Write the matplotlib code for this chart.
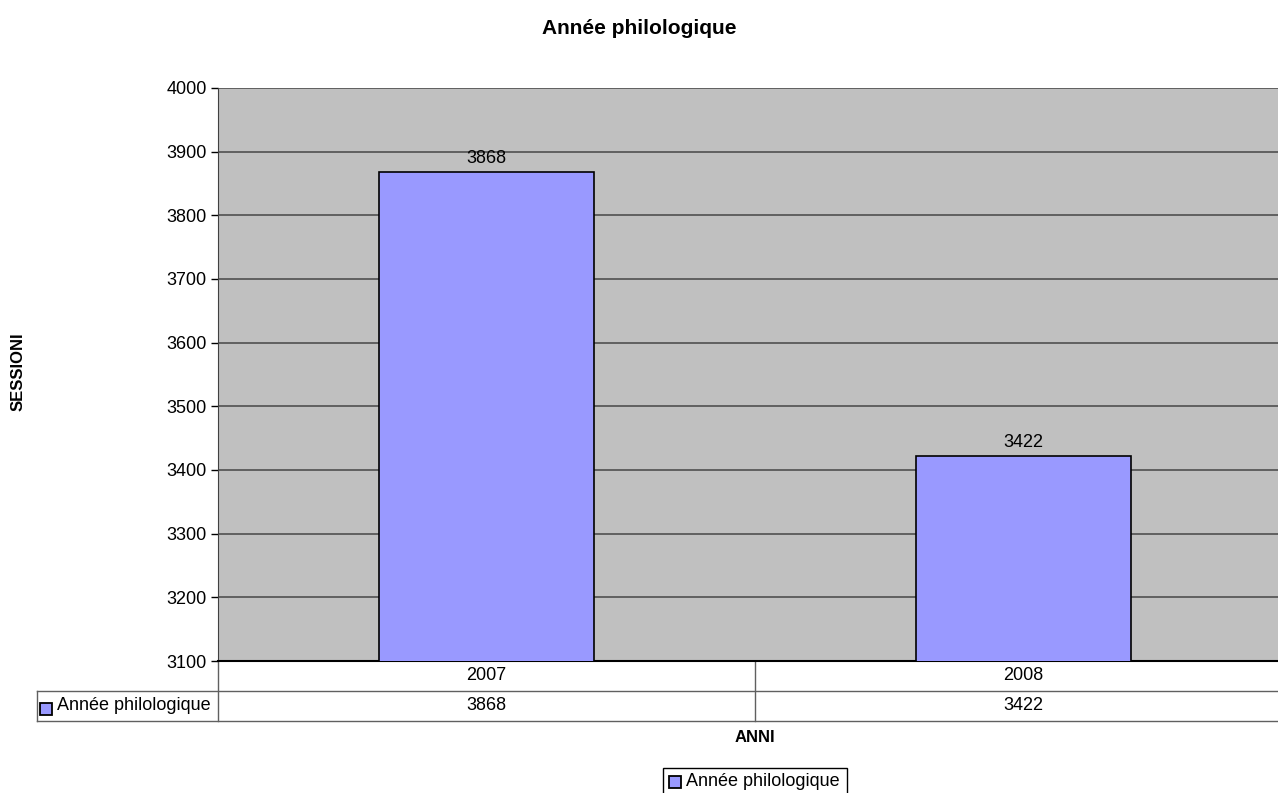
import matplotlib.pyplot as plt
from matplotlib.patches import Rectangle
from matplotlib.transforms import blended_transform_factory

plt.rcParams['font.family'] = ['Liberation Sans', 'DejaVu Sans']

# dati
anni = ["2007", "2008"]
sessioni = [3868, 3422]
serie = "Année philologique"

W, H = 1278, 793
fig = plt.figure(figsize=(W / 100, H / 100), dpi=100)

# area del grafico (in pixel dell'immagine); il bordo destro esce dall'immagine
left, right, top, bottom = 218, 1292, 88, 661
ax = fig.add_axes([left / W, 1 - bottom / H, (right - left) / W, (bottom - top) / H])
ax.set_facecolor("#C0C0C0")

x = list(range(len(anni)))
ax.bar(x, sessioni, width=0.4, color="#9999FF", edgecolor="black", linewidth=1.2, zorder=3)
for xi, v in zip(x, sessioni):
    ax.text(xi, v + 8, str(v), ha="center", va="bottom", fontsize=13, zorder=4)

ax.set_xlim(-0.5, len(anni) - 0.5)
ax.set_ylim(3100, 4000)
ax.set_yticks(range(3100, 4001, 100))
ax.tick_params(axis="y", labelsize=13, length=5, width=1, direction="out", pad=3)
ax.set_xticks([])
ax.grid(axis="y", color="#505050", linewidth=1.2, zorder=1)

for s in ["top", "right"]:
    ax.spines[s].set_visible(False)
ax.spines["left"].set_color("#404040")
ax.spines["bottom"].set_color("black")
ax.spines["bottom"].set_linewidth(1.5)

# tabella dati sotto il grafico
trans = blended_transform_factory(ax.transData, ax.transAxes)
ph = bottom - top
r1 = -30 / ph
r2 = -60 / ph
leg_left = (37 - left) / (right - left)
lc = "#606060"
ax.plot([0, 0], [0, r2], transform=ax.transAxes, color=lc, lw=1, clip_on=False)
ax.plot([1, 1], [0, r2], transform=ax.transAxes, color=lc, lw=1, clip_on=False)
ax.plot([0.5, 0.5], [0, r2], transform=trans, color=lc, lw=1, clip_on=False)
ax.plot([leg_left, 1], [r1, r1], transform=ax.transAxes, color=lc, lw=1, clip_on=False)
ax.plot([leg_left, 1], [r2, r2], transform=ax.transAxes, color=lc, lw=1, clip_on=False)
ax.plot([leg_left, leg_left], [r1, r2], transform=ax.transAxes, color=lc, lw=1, clip_on=False)

for xi, a, v in zip(x, anni, sessioni):
    ax.text(xi, r1 / 2, a, transform=trans, ha="center", va="center", fontsize=13)
    ax.text(xi, (r1 + r2) / 2, str(v), transform=trans, ha="center", va="center", fontsize=13)

# chiave della legenda nella tabella
fig.patches.append(Rectangle((40 / W, 1 - 715 / H), 12 / W, 12 / H, transform=fig.transFigure,
                             facecolor="#9999FF", edgecolor="black", lw=1.3))
fig.text(57 / W, 1 - 706 / H, serie, ha="left", va="center", fontsize=13)

# titoli
fig.text(0.5, 1 - 28 / H, serie, ha="center", va="center", fontsize=15, fontweight="bold")
fig.text(18 / W, 1 - 372 / H, "SESSIONI", rotation=90, ha="center", va="center", fontsize=12, fontweight="bold")
fig.text(755 / W, 1 - 737 / H, "ANNI", ha="center", va="center", fontsize=12, fontweight="bold")

# legenda in basso
fig.patches.append(Rectangle((663 / W, 1 - 800 / H), 184 / W, 32 / H, transform=fig.transFigure,
                             facecolor="white", edgecolor="black", lw=1))
fig.patches.append(Rectangle((669 / W, 1 - 788 / H), 12 / W, 12 / H, transform=fig.transFigure,
                             facecolor="#9999FF", edgecolor="black", lw=1.3))
fig.text(686 / W, 1 - 781 / H, serie, ha="left", va="center", fontsize=13)

fig.savefig("out.png", dpi=100, facecolor="white")
